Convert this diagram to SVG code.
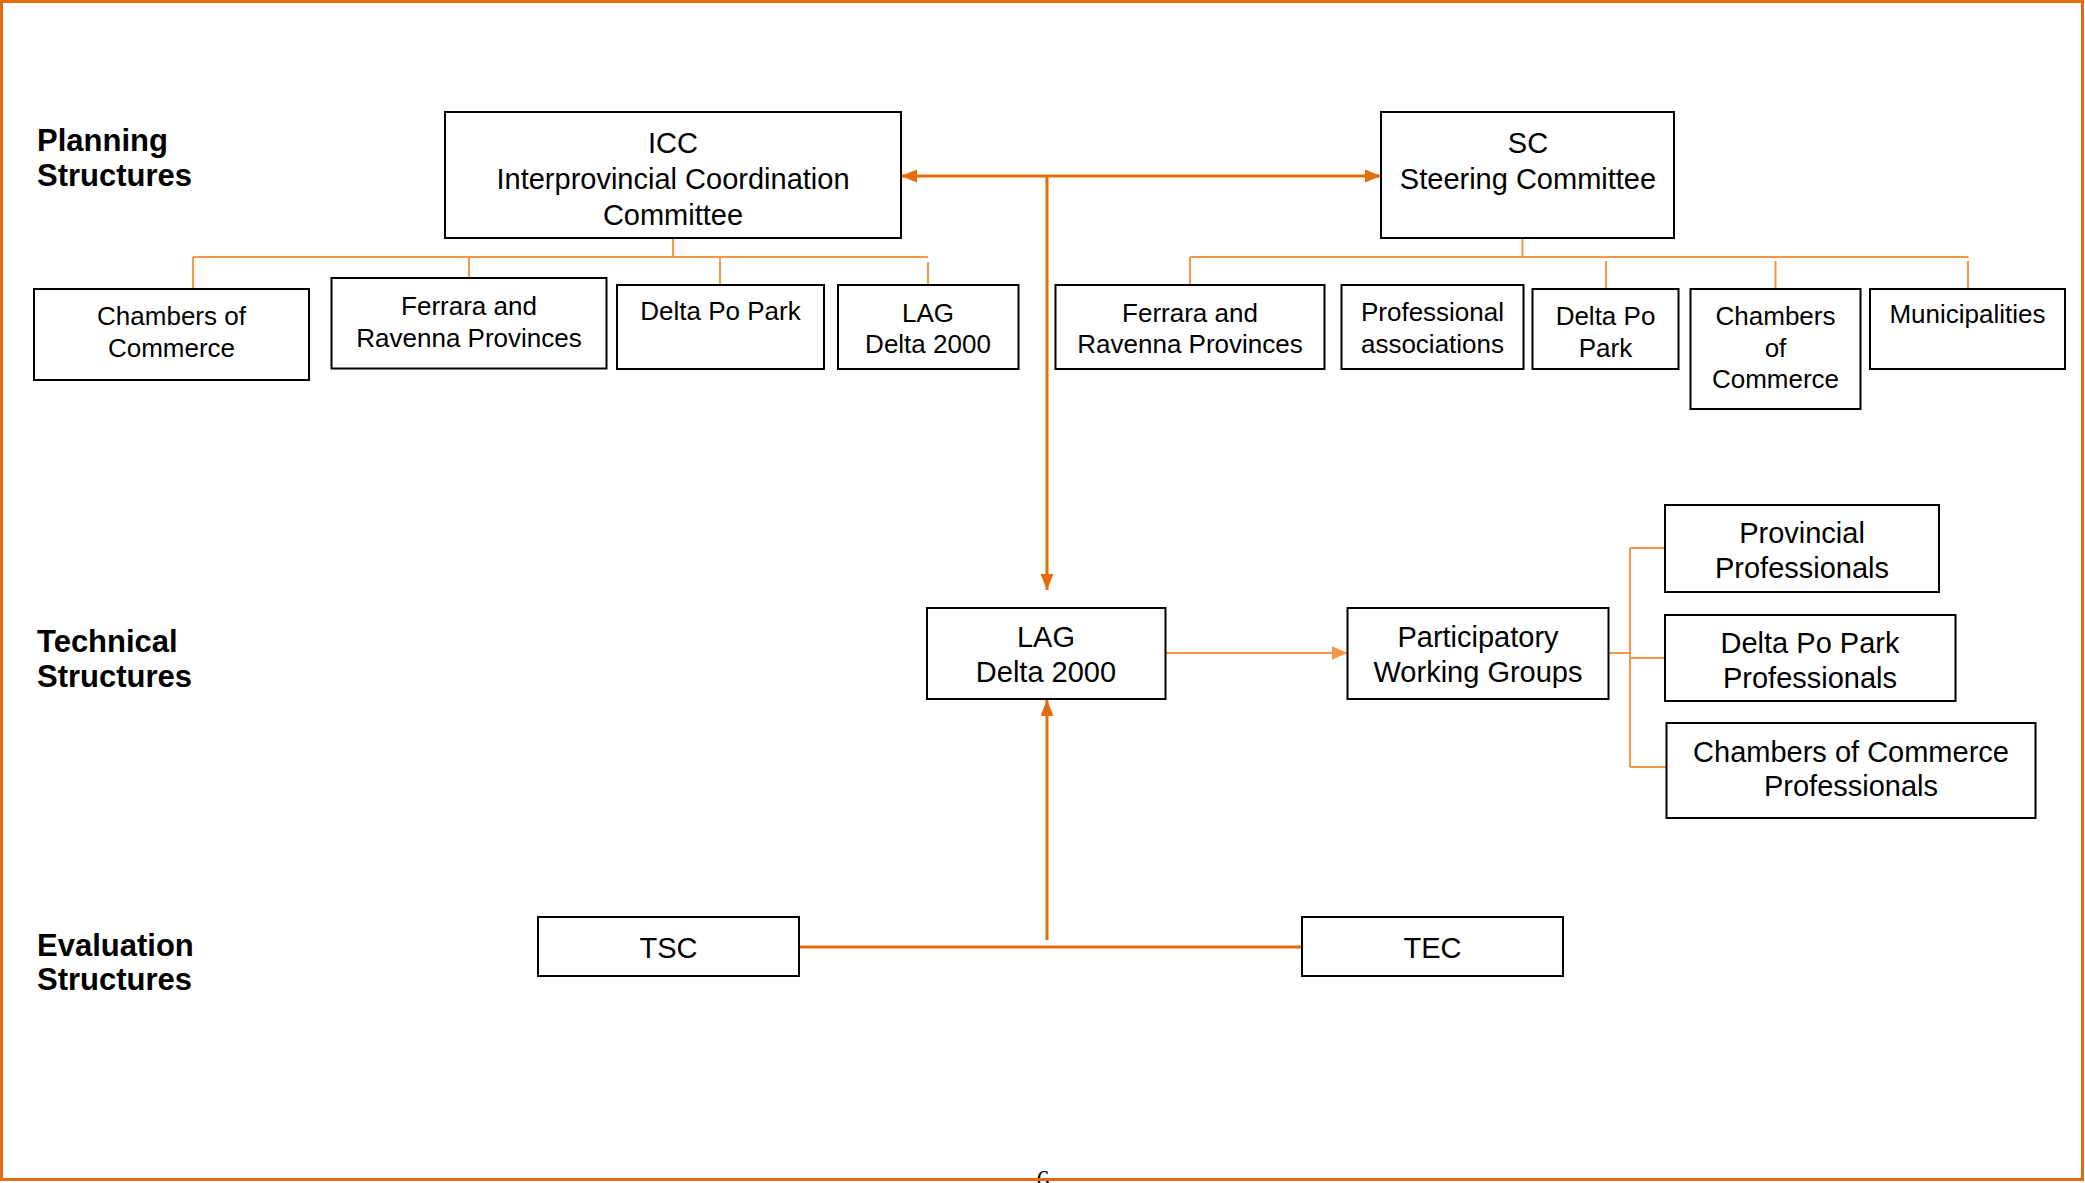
<svg xmlns="http://www.w3.org/2000/svg" width="2085" height="1183" viewBox="0 0 2085 1183">
<defs>
<style>
.box{fill:#fff;stroke:#000;stroke-width:2}
.t{font-family:"Liberation Sans",Arial,sans-serif;font-size:29px;fill:#000;text-anchor:middle}
.s{font-family:"Liberation Sans",Arial,sans-serif;font-size:26px;fill:#000;text-anchor:middle}
.lbl{font-family:"Liberation Sans",Arial,sans-serif;font-size:31px;font-weight:bold;fill:#000}
.dark{fill:none;stroke:#E46C0A;stroke-width:3}
.light{fill:none;stroke:#F79646;stroke-width:2}
</style>
<marker id="ad" markerUnits="userSpaceOnUse" markerWidth="17" markerHeight="13" refX="16" refY="6.5" orient="auto-start-reverse">
<path d="M0,0 L16,6.5 L0,13 z" fill="#E46C0A"/>
</marker>
<marker id="al" markerUnits="userSpaceOnUse" markerWidth="17" markerHeight="15" refX="16" refY="7" orient="auto">
<path d="M0,0 L16,7 L0,14 z" fill="#F79646"/>
</marker>
</defs>
<rect x="0" y="0" width="2085" height="1183" fill="#fff"/>
<text x="1043" y="1188" font-family="'Liberation Serif',serif" font-size="26" text-anchor="middle">6</text>
<rect x="1.5" y="1.5" width="2081" height="1178" fill="none" stroke="#E46C0A" stroke-width="3"/>

<g id="labels">
<text class="lbl" x="37" y="151">Planning</text>
<text class="lbl" x="37" y="186">Structures</text>
<text class="lbl" x="37" y="652">Technical</text>
<text class="lbl" x="37" y="687">Structures</text>
<text class="lbl" x="37" y="956">Evaluation</text>
<text class="lbl" x="37" y="990">Structures</text>
</g>

<g id="connectors">
<line class="dark" x1="901" y1="176" x2="1381" y2="176" marker-start="url(#ad)" marker-end="url(#ad)"/>
<line class="dark" x1="1047" y1="176" x2="1047" y2="590" stroke-width="2.5" marker-end="url(#ad)"/>
<line class="dark" x1="799" y1="947" x2="1302" y2="947" stroke-width="4"/>
<line class="dark" x1="1047" y1="940" x2="1047" y2="700" stroke-width="2.5" marker-end="url(#ad)"/>
<line class="light" x1="1165.5" y1="653" x2="1347.5" y2="653" stroke-width="3" marker-end="url(#al)"/>
<path class="light" d="M673,238 V257 M193,257 H928 M193,257 V289 M469,257 V278 M720,257 V285 M928,262 V285"/>
<path class="light" d="M1522.5,238 V257 M1190,257 H1968.5 M1190,257 V285 M1606,261 V289 M1775.5,261 V289 M1968,261 V289"/>
<path class="light" d="M1608.5,653 H1630 M1630,548 V767 M1630,548 H1665 M1630,658 H1665 M1630,767 H1666.5"/>
</g>

<g id="icc">
<rect class="box" x="445" y="112" width="456" height="126"/>
<text class="t" x="673" y="153">ICC</text>
<text class="t" x="673" y="189">Interprovincial Coordination</text>
<text class="t" x="673" y="225">Committee</text>
</g>
<g id="sc">
<rect class="box" x="1381" y="112" width="293" height="126"/>
<text class="t" x="1528" y="153">SC</text>
<text class="t" x="1528" y="189">Steering Committee</text>
</g>

<g id="l-chambers">
<rect class="box" x="34" y="289" width="275" height="91"/>
<text class="s" x="171.5" y="325">Chambers of</text>
<text class="s" x="171.5" y="357">Commerce</text>
</g>
<g id="l-ferrara">
<rect class="box" x="331.5" y="278" width="275" height="90.5"/>
<text class="s" x="469" y="315">Ferrara and</text>
<text class="s" x="469" y="347">Ravenna Provinces</text>
</g>
<g id="l-deltapark">
<rect class="box" x="617" y="285" width="207" height="84"/>
<text class="s" x="720.5" y="320">Delta Po Park</text>
</g>
<g id="l-lag">
<rect class="box" x="838" y="285" width="180.5" height="84"/>
<text class="s" x="928" y="322">LAG</text>
<text class="s" x="928" y="353">Delta 2000</text>
</g>

<g id="r-ferrara">
<rect class="box" x="1055.5" y="285" width="269" height="84"/>
<text class="s" x="1190" y="322">Ferrara and</text>
<text class="s" x="1190" y="353">Ravenna Provinces</text>
</g>
<g id="r-professional">
<rect class="box" x="1341.5" y="285" width="182" height="84"/>
<text class="s" x="1432.5" y="321">Professional</text>
<text class="s" x="1432.5" y="353">associations</text>
</g>
<g id="r-deltapark">
<rect class="box" x="1532.5" y="289" width="146" height="80"/>
<text class="s" x="1605.5" y="325">Delta Po</text>
<text class="s" x="1605.5" y="357">Park</text>
</g>
<g id="r-chambers">
<rect class="box" x="1690.5" y="289" width="170" height="120"/>
<text class="s" x="1775.5" y="325">Chambers</text>
<text class="s" x="1775.5" y="357">of</text>
<text class="s" x="1775.5" y="388">Commerce</text>
</g>
<g id="r-municipalities">
<rect class="box" x="1870" y="289" width="195" height="80"/>
<text class="s" x="1967.5" y="323">Municipalities</text>
</g>

<g id="lag">
<rect class="box" x="927" y="608" width="238.5" height="91"/>
<text class="t" x="1046" y="647">LAG</text>
<text class="t" x="1046" y="682">Delta 2000</text>
</g>
<g id="pwg">
<rect class="box" x="1347.5" y="608" width="261" height="91"/>
<text class="t" x="1478" y="647">Participatory</text>
<text class="t" x="1478" y="682">Working Groups</text>
</g>
<g id="provincial">
<rect class="box" x="1665" y="505" width="274" height="87"/>
<text class="t" x="1802" y="543">Provincial</text>
<text class="t" x="1802" y="578">Professionals</text>
</g>
<g id="dpp-professionals">
<rect class="box" x="1665" y="615" width="290.5" height="86"/>
<text class="t" x="1810" y="653">Delta Po Park</text>
<text class="t" x="1810" y="688">Professionals</text>
</g>
<g id="cc-professionals">
<rect class="box" x="1666.5" y="723" width="369" height="95"/>
<text class="t" x="1851" y="762">Chambers of Commerce</text>
<text class="t" x="1851" y="796">Professionals</text>
</g>

<g id="tsc">
<rect class="box" x="538" y="917" width="261" height="59"/>
<text class="t" x="668.5" y="958">TSC</text>
</g>
<g id="tec">
<rect class="box" x="1302" y="917" width="261" height="59"/>
<text class="t" x="1432.5" y="958">TEC</text>
</g>
</svg>
